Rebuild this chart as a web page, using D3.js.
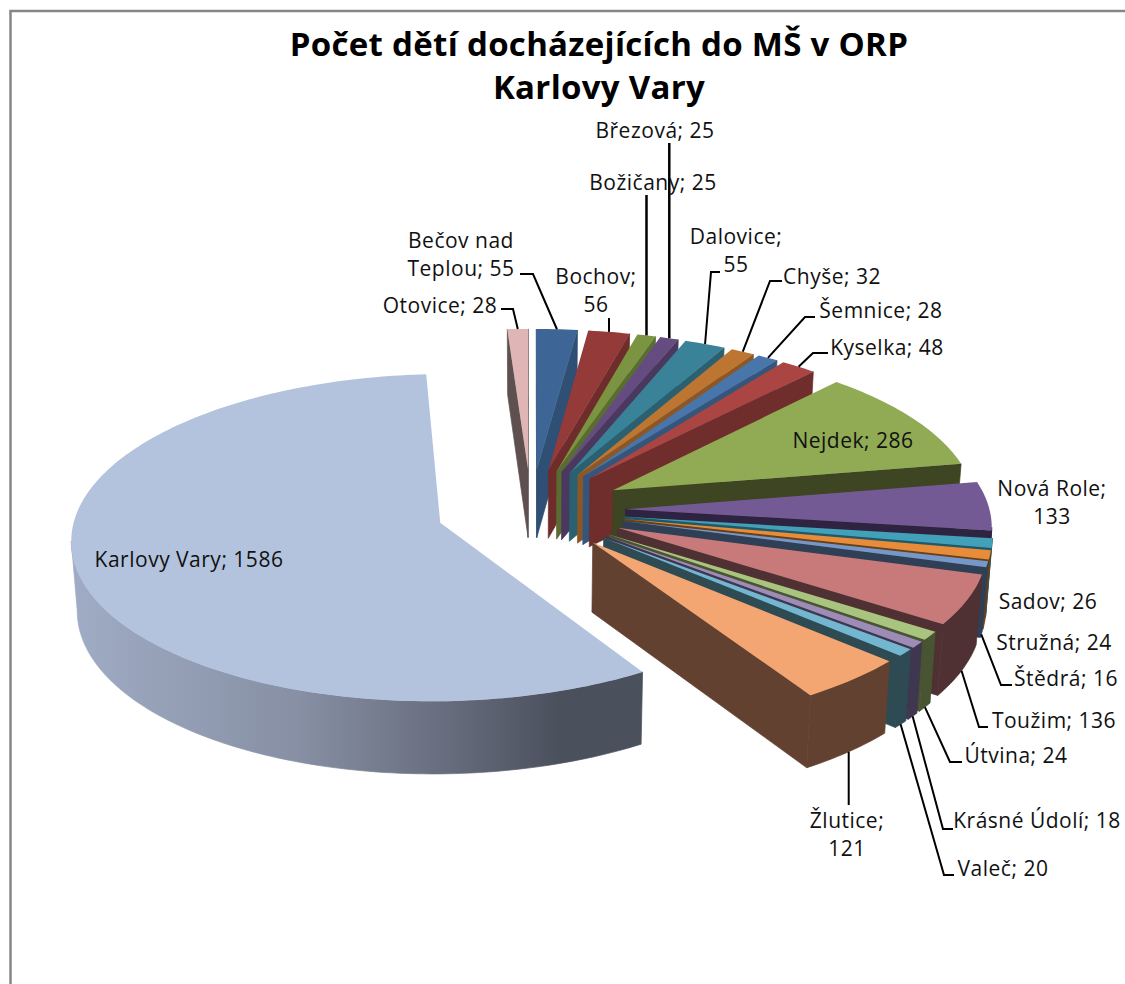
<!DOCTYPE html>
<html>
<head>
<meta charset="utf-8">
<script src="https://cdn.jsdelivr.net/npm/d3@7"></script>
<style>
    html, body { margin: 0; padding: 0; background: #fff; }
    text { font-family: "Open Sans", sans-serif; fill: #111; }
</style>
</head>
<body>
<svg id="chart" width="1125" height="984"></svg>
<script>
const names = ['Bečov nad Teplou', 'Bochov', 'Božičany', 'Březová', 'Dalovice', 'Chyše', 'Šemnice', 'Kyselka', 'Nejdek', 'Nová Role',
    'Sadov', 'Stružná', 'Štědrá', 'Toužim', 'Útvina', 'Krásné Údolí', 'Valeč', 'Žlutice', 'Karlovy Vary', 'Otovice']
const values = [55, 56, 25, 25, 55, 32, 28, 48, 286, 133, 26, 24, 16, 136, 24, 18, 20, 121, 1586, 28]
const topColors = ['#3d6595', '#943a38', '#7b9442', '#654c80', '#398297', '#bd7632', '#4876ab', '#aa4543', '#90ab54', '#745a94',
    '#43a0b9', '#e98c3a', '#7598c9', '#c87a7a', '#a9c47e', '#9d8bb8', '#72b6cf', '#f4a672', '#b3c3de', '#dfb5b5']
const sideColors = ['#2f4f75', '#6e2c2a', '#5a6d31', '#4a385e', '#2a6070', '#8c5725', '#34567c', '#6f2d2c', '#3d4522', '#2e2340',
    '#1e5a69', '#6a4019', '#2f3f56', '#4f3033', '#495432', '#3f3650', '#2e4a53', '#634130', '#4a505c', '#5f5050']
const titleLines = ['Počet dětí docházejících do MŠ v ORP', 'Karlovy Vary']

// projection of the tilted pie
const view = { cx: 531, cy: 510, a: 364, b: 160, k: 0.09, explode: 0.26, depth: 69, shrink: 0.987 }

// where each label sits, and the elbow of its leader line
const labelLayout = {
    'Bečov nad Teplou': { x: 461, y: 248, lines: ['Bečov nad', 'Teplou; 55'], elbow: [[520, 274], [533, 274]] },
    'Bochov': { x: 596, y: 284, lines: ['Bochov;', '56'], elbow: [[0, 318]], plumb: true },
    'Božičany': { x: 653, y: 190, lines: ['Božičany; 25'], elbow: [[0, 195]], heavy: true, plumb: true },
    'Březová': { x: 655, y: 138, lines: ['Březová; 25'], elbow: [[0, 143]], heavy: true, plumb: true },
    'Dalovice': { x: 736, y: 244, lines: ['Dalovice;', '55'], elbow: [[720, 272], [711, 272]] },
    'Chyše': { x: 832, y: 284, lines: ['Chyše; 32'], elbow: [[782, 281], [770, 281]] },
    'Šemnice': { x: 881, y: 318, lines: ['Šemnice; 28'], elbow: [[815, 317], [805, 317]] },
    'Kyselka': { x: 887, y: 355, lines: ['Kyselka; 48'], elbow: [[828, 353], [813, 353]] },
    'Nejdek': { x: 853, y: 448, lines: ['Nejdek; 286'] },
    'Nová Role': { x: 1052, y: 496, lines: ['Nová Role;', '133'] },
    'Sadov': { x: 1048, y: 609, lines: ['Sadov; 26'] },
    'Stružná': { x: 1054, y: 650, lines: ['Stružná; 24'] },
    'Štědrá': { x: 1066, y: 686, lines: ['Štědrá; 16'], elbow: [[1012, 685], [1001, 685]], front: true },
    'Toužim': { x: 1054, y: 728, lines: ['Toužim; 136'], elbow: [[988, 727], [979, 727]], front: true },
    'Útvina': { x: 1016, y: 763, lines: ['Útvina; 24'], elbow: [[962, 762], [950, 762]], front: true },
    'Krásné Údolí': { x: 1037, y: 828, lines: ['Krásné Údolí; 18'], elbow: [[953, 829], [943, 829]], front: true },
    'Valeč': { x: 1003, y: 876, lines: ['Valeč; 20'], elbow: [[954, 875], [944, 875]], front: true },
    'Žlutice': { x: 847, y: 828, lines: ['Žlutice;', '121'], elbow: [[0, 805]], front: true, plumb: true },
    'Karlovy Vary': { x: 189, y: 567, lines: ['Karlovy Vary; 1586'] },
    'Otovice': { x: 440, y: 313, lines: ['Otovice; 28'], elbow: [[501, 309], [513, 309]] }
}

const svg = d3.select('#chart')
const line = d3.line()

function project(u, v) {
    const w = 1 + view.k * v
    return [view.cx + view.a * u / w, view.cy - view.b * v / w, w]
}

function drop(p) {
    return [view.cx + (p[0] - view.cx) * view.shrink, p[1] + view.depth / Math.sqrt(p[2])]
}

function wall(points) {
    return line(points.concat(points.map(drop).reverse())) + 'Z'
}

const pie = d3.pie().sort(null).startAngle(0).endAngle(2 * Math.PI)
const slices = pie(values).map((d, i) => {
    const mid = (d.startAngle + d.endAngle) / 2
    const ou = view.explode * Math.sin(mid)
    const ov = view.explode * Math.cos(mid)
    const at = a => project(ou + Math.sin(a), ov + Math.cos(a))
    const steps = Math.max(2, Math.ceil((d.endAngle - d.startAngle) / 0.02))
    const rim = d3.range(steps + 1).map(s => at(d.startAngle + (d.endAngle - d.startAngle) * s / steps))
    return { name: names[i], i, mid, apex: project(ou, ov), rim, at, depthKey: Math.cos(mid) }
})

const defs = svg.append('defs')
const grad = defs.append('linearGradient')
    .attr('id', 'kvWall')
    .attr('gradientUnits', 'userSpaceOnUse')
    .attr('x1', 72).attr('x2', 645).attr('y1', 0).attr('y2', 0)
grad.append('stop').attr('offset', 0).attr('stop-color', '#a0acc5')
grad.append('stop').attr('offset', 0.4).attr('stop-color', '#868fa3')
grad.append('stop').attr('offset', 0.66).attr('stop-color', '#666c7c')
grad.append('stop').attr('offset', 0.85).attr('stop-color', '#4a505c')
grad.append('stop').attr('offset', 1).attr('stop-color', '#4a505c')

// chart frame, only the top and left edges are in the picture
svg.append('path')
    .attr('d', 'M10.5,984V11H1125')
    .attr('fill', 'none')
    .attr('stroke', '#868686')
    .attr('stroke-width', 2.5)

// back slices first, so the front ones cover them
slices.slice().sort((a, b) => b.depthKey - a.depthKey).forEach(s => {
    const g = svg.append('g').attr('class', 'slice')
    const side = s.name === 'Karlovy Vary' ? 'url(#kvWall)' : sideColors[s.i]
    const first = s.rim[0]
    const last = s.rim[s.rim.length - 1]
    // the thin stroke closes the seam between neighbouring walls
    const addWall = points => g.append('path')
        .attr('d', wall(points))
        .attr('fill', side)
        .attr('stroke', side)
        .attr('stroke-width', 0.7)

    if (first[0] < s.apex[0]) addWall([s.apex, first])
    if (s.apex[0] < last[0]) addWall([last, s.apex])

    // outer wall: only the runs of rim that face the viewer
    let run = []
    s.rim.forEach((p, j) => {
        const next = s.rim[j + 1]
        if (next && next[0] < p[0]) {
            if (!run.length) run.push(p)
            run.push(next)
        } else if (run.length) {
            addWall(run)
            run = []
        }
    })

    g.append('path')
        .attr('d', line([s.apex].concat(s.rim)) + 'Z')
        .attr('fill', topColors[s.i])
})

// leader lines run from the rim at the slice's middle angle
slices.forEach(s => {
    const l = labelLayout[s.name]
    if (!l.elbow) return
    const rimPoint = s.at(s.mid)
    const end = l.front ? drop(rimPoint) : rimPoint
    const knees = l.plumb ? l.elbow.map(p => [end[0], p[1]]) : l.elbow
    svg.append('path')
        .attr('d', line(knees.concat([[end[0], end[1]]])))
        .attr('fill', 'none')
        .attr('stroke', '#000')
        .attr('stroke-width', l.heavy ? 2.5 : 2)
})

slices.forEach(s => {
    const l = labelLayout[s.name]
    const t = svg.append('text')
        .attr('text-anchor', 'middle')
        .attr('font-size', 21)
        .attr('letter-spacing', 0.5)
    l.lines.forEach((txt, n) => {
        t.append('tspan').attr('x', l.x).attr('y', l.y + n * 27.5).text(txt)
    })
})

titleLines.forEach((txt, n) => {
    svg.append('text')
        .attr('x', 599)
        .attr('y', 56 + n * 43)
        .attr('text-anchor', 'middle')
        .attr('font-size', 33)
        .attr('font-weight', 700)
        .attr('letter-spacing', 0.3)
        .style('fill', '#000')
        .text(txt)
})
</script>
</body>
</html>
